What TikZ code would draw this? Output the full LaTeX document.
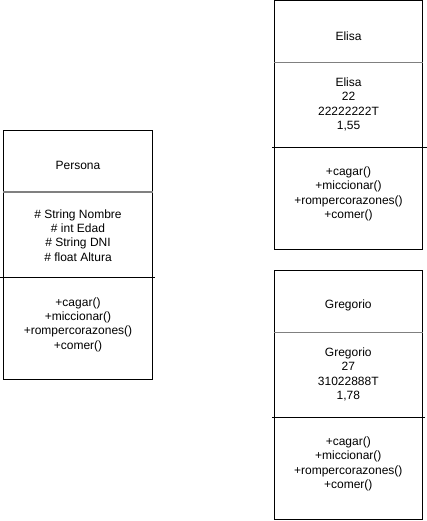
\documentclass[tikz,border=0pt]{standalone}
\usepackage{fontspec}
\setmainfont{Liberation Sans}
\usetikzlibrary{positioning}

\tikzset{
  box/.style={draw=black, line width=1pt, minimum width=148.5pt, minimum height=249pt, inner sep=0pt},
  txt/.style={align=center, inner sep=0pt, font=\fontsize{12pt}{14.4pt}\selectfont},
  sep/.style={draw=gray, line width=1.3pt},
  cut/.style={draw=black, line width=0.8pt}
}

\begin{document}
\begin{tikzpicture}[x=1pt,y=-1pt]
\useasboundingbox (0,0) rectangle (427,521);

\node[box](p) at (78,254.7) {};
\node[txt](pt) at (78,165) {Persona};
\node[txt](pa) at (78,235.5) {\# String Nombre\\\# int Edad\\\# String DNI\\\# float Altura};
\node[txt](pm) at (78,324.5) {+cagar()\\+miccionar()\\+rompercorazones()\\+comer()};

\node[box](e) at (348.5,125.4) {};
\node[txt](et) at (348.5,36) {Elisa};
\node[txt](ea) at (348.5,104.5) {Elisa\\22\\22222222T\\1,55};
\node[txt](em) at (348.5,194) {+cagar()\\+miccionar()\\+rompercorazones()\\+comer()};

\node[box](g) at (348.3,395.2) {};
\node[txt](gt) at (348.3,305) {Gregorio};
\node[txt](ga) at (348.3,374.5) {Gregorio\\27\\31022888T\\1,78};
\node[txt](gm) at (348.3,464) {+cagar()\\+miccionar()\\+rompercorazones()\\+comer()};

\draw[sep] (p.west |- 0,192) -- (p.east |- 0,192);
\draw[cut] (0,277) -- (155,277);
\draw[sep] (e.west |- 0,62.7) -- (e.east |- 0,62.7);
\draw[cut] (272,147.7) -- (427,147.7);
\draw[sep] (g.west |- 0,332.7) -- (g.east |- 0,332.7);
\draw[cut] (272,417.7) -- (425,417.7);

\end{tikzpicture}
\end{document}
